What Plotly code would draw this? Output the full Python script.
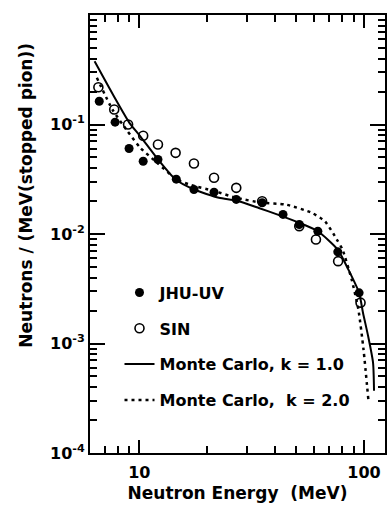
import numpy as np
import plotly.graph_objects as go

# Measured neutron spectra (MeV, neutrons per MeV per stopped pion)
jhu_energy = [6.63, 7.80, 9.0, 10.4, 12.1, 14.6, 17.5, 21.5, 27.0, 35.2, 43.6, 51.5, 62.3, 76.4, 95.1]
jhu_yield = [0.163, 0.105, 0.0604, 0.0462, 0.0479, 0.0317, 0.0255, 0.0241, 0.0207, 0.0193,
             0.0151, 0.0122, 0.0106, 0.00687, 0.0029]

sin_energy = [6.57, 7.73, 8.91, 10.4, 12.1, 14.5, 17.5, 21.5, 27.0, 35.2, 51.5, 61.1, 76.7, 96.5]
sin_yield = [0.219, 0.137, 0.100, 0.079, 0.0657, 0.0551, 0.044, 0.0326, 0.0264, 0.0199,
             0.0118, 0.0089, 0.00565, 0.00236]

# Monte Carlo predictions
mc1_energy = [6.32, 7.85, 9.03, 10.1, 12.1, 14.5, 17.5, 22.6, 27.0, 34.0, 41.0, 51.5, 62.3,
              76.4, 85.1, 95.1, 99.0, 104.3, 109.7, 110.8]
mc1_yield = [0.378, 0.169, 0.1036, 0.078, 0.048, 0.0314, 0.0255, 0.0214, 0.0202, 0.0173,
             0.0151, 0.01265, 0.0106, 0.0072, 0.00475, 0.0029, 0.0019, 0.00117, 0.00067, 0.00037]

mc2_energy = [6.47, 7.59, 8.85, 10.1, 12.0, 14.7, 16.7, 21.5, 27.0, 35.2, 44.7, 58.6, 67.1,
              75.7, 80.2, 88.1, 94.4, 99.5, 104.5]
mc2_yield = [0.267, 0.137, 0.087, 0.0613, 0.0447, 0.0314, 0.0283, 0.0247, 0.0214, 0.0193,
             0.0186, 0.0156, 0.013, 0.0089, 0.0072, 0.00384, 0.00204, 0.00088, 0.00031]

x_major = [10, 100]
x_major_text = ["10", "100"]
x_minor = [7, 8, 9, 20, 30, 40, 50, 60, 70, 80, 90]
y_major = [1e-4, 1e-3, 1e-2, 1e-1, 1]
y_major_text = ["10<sup>-4</sup>", "10<sup>-3</sup>", "10<sup>-2</sup>", "10<sup>-1</sup>", ""]
y_minor = [m * 10.0 ** e for e in range(-4, 0) for m in range(2, 10)]

FONT = "DejaVu Sans"

fig = go.Figure()

fig.add_trace(go.Scatter(
    x=mc1_energy, y=mc1_yield, mode="lines", name="Monte Carlo, k = 1.0",
    line=dict(color="black", width=2, shape="spline", smoothing=0.6),
    legendrank=3, legendgroup="c"))
fig.add_trace(go.Scatter(
    x=mc2_energy, y=mc2_yield, mode="lines", name="Monte Carlo,  k = 2.0",
    line=dict(color="black", width=2.5, dash="3px,4px", shape="spline", smoothing=0.6),
    legendrank=4, legendgroup="d"))
fig.add_trace(go.Scatter(
    x=sin_energy, y=sin_yield, mode="markers", name="SIN",
    marker=dict(symbol="circle-open", size=9, color="black", line=dict(width=1.6)),
    legendrank=2, legendgroup="b"))
fig.add_trace(go.Scatter(
    x=jhu_energy, y=jhu_yield, mode="markers", name="JHU-UV",
    marker=dict(symbol="circle", size=9, color="black"),
    legendrank=1, legendgroup="a"))

axis_common = dict(
    showline=True, linecolor="black", linewidth=2, mirror="ticks",
    ticks="inside", tickcolor="black", tickwidth=1.5,
    showgrid=False, zeroline=False,
    tickfont=dict(family=FONT, size=16, color="black", weight="bold"),
)

fig.update_xaxes(
    type="log", range=[np.log10(6.03), np.log10(124)],
    tickmode="array", tickvals=x_major, ticktext=x_major_text, ticklen=13,
    ticklabelstandoff=4,
    minor=dict(tickmode="array", tickvals=x_minor, ticks="inside", ticklen=7,
               tickcolor="black", tickwidth=1.5),
    title=dict(text="Neutron Energy  (MeV)",
               font=dict(family=FONT, size=17, color="black", weight="bold"),
               standoff=6),
    **axis_common)
fig.update_yaxes(
    type="log", range=[-4, 0],
    tickmode="array", tickvals=y_major, ticktext=y_major_text, ticklen=15,
    minor=dict(tickmode="array", tickvals=y_minor, ticks="inside", ticklen=7,
               tickcolor="black", tickwidth=1.5),
    **axis_common)

fig.add_annotation(
    text="Neutrons / (MeV(stopped pion))", textangle=-90,
    xref="paper", yref="paper", x=-0.218, y=0.589, xanchor="center", yanchor="middle",
    showarrow=False, font=dict(family=FONT, size=17, color="black", weight="bold"))

fig.update_layout(
    width=391, height=508,
    margin=dict(l=90, r=4, t=15, b=55),
    paper_bgcolor="white", plot_bgcolor="white",
    showlegend=True,
    legend=dict(x=0.1, y=0.405, xanchor="left", yanchor="top",
                bgcolor="rgba(0,0,0,0)", borderwidth=0,
                font=dict(family=FONT, size=16, color="black", weight="bold"),
                tracegroupgap=12, itemwidth=30),
)

fig.write_html("out.html")
